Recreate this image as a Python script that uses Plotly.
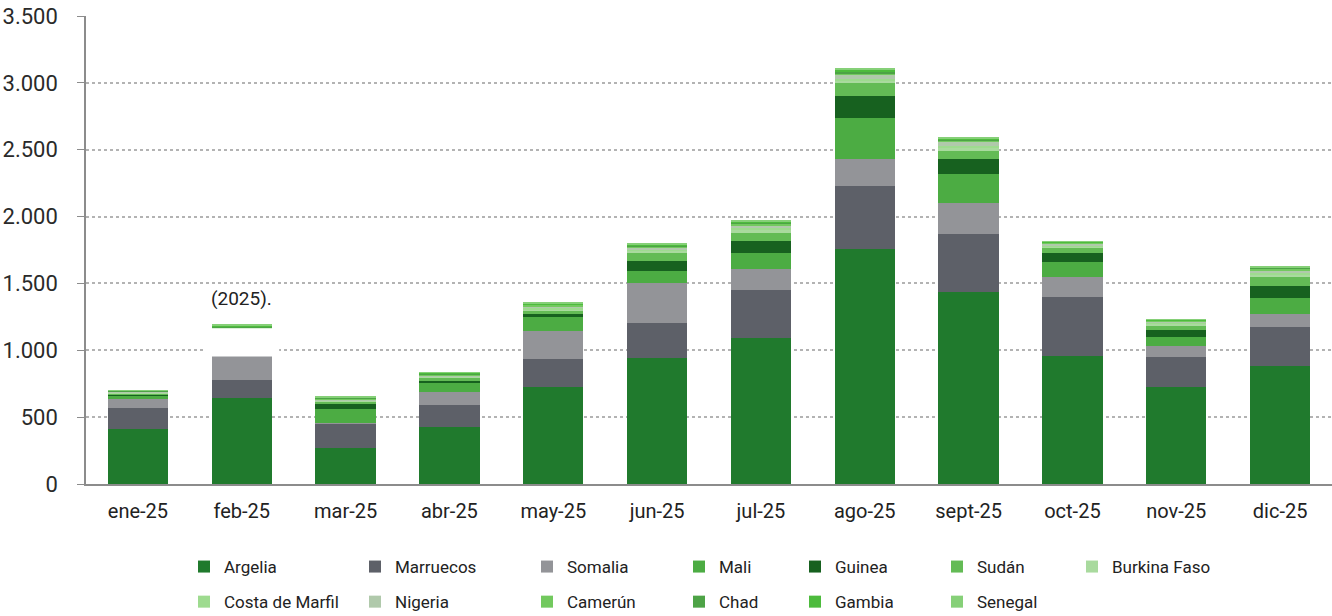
import plotly.graph_objects as go

months = ["ene-25", "feb-25", "mar-25", "abr-25", "may-25", "jun-25",
          "jul-25", "ago-25", "sept-25", "oct-25", "nov-25", "dic-25"]

argelia = [408, 645, 271, 429, 728, 945, 1090, 1755, 1438, 957, 723, 883]
marruecos = [157, 135, 183, 162, 207, 262, 361, 473, 431, 439, 224, 289]
somalia = [67, 180, 5, 95, 212, 299, 157, 204, 229, 154, 85, 100]
mali = [28, 90, 105, 67, 105, 87, 117, 307, 224, 112, 65, 117]
guinea = [12, 45, 37, 17, 20, 77, 92, 162, 105, 67, 55, 92]
sudan = [8, 30, 15, 25, 22, 63, 62, 95, 64, 40, 37, 70]
burkina = [3, 12, 5, 6, 14, 12, 20, 20, 20, 10, 8, 15]
costa_marfil = [3, 10, 5, 6, 12, 10, 15, 15, 20, 8, 8, 15]
nigeria = [3, 10, 5, 5, 10, 10, 18, 27, 25, 10, 8, 15]
camerun = [5, 15, 8, 10, 10, 12, 15, 15, 15, 8, 7, 12]
chad = [3, 8, 5, 5, 6, 8, 10, 10, 8, 4, 4, 8]
gambia = [3, 8, 5, 4, 4, 7, 7, 10, 8, 4, 4, 6]
senegal = [3, 10, 6, 4, 6, 8, 10, 15, 10, 4, 4, 8]

series = [
    ("Argelia", argelia, "#207a2d", "legend"),
    ("Marruecos", marruecos, "#5d6068", "legend2"),
    ("Somalia", somalia, "#939498", "legend3"),
    ("Mali", mali, "#4cac43", "legend4"),
    ("Guinea", guinea, "#17611f", "legend5"),
    ("Sudán", sudan, "#63bb55", "legend6"),
    ("Burkina Faso", burkina, "#a9da9e", "legend7"),
    ("Costa de Marfil", costa_marfil, "#9edb8f", "legend"),
    ("Nigeria", nigeria, "#b0c9ab", "legend2"),
    ("Camerún", camerun, "#72c95e", "legend3"),
    ("Chad", chad, "#4da346", "legend4"),
    ("Gambia", gambia, "#4dbb3d", "legend5"),
    ("Senegal", senegal, "#86d078", "legend6"),
]

fig = go.Figure()
for name, vals, color, leg in series:
    fig.add_trace(go.Bar(
        x=months, y=vals, name=name, legend=leg, legendgroup=name,
        marker=dict(color=color, line=dict(width=0)),
    ))

W, H = 1332, 616
legend_cols = [184, 355, 527, 679, 795, 937, 1072]
legend_top = 549
layout_legends = {}
for i, xpx in enumerate(legend_cols):
    key = "legend" if i == 0 else f"legend{i+1}"
    layout_legends[key] = dict(
        orientation="v", xref="container", yref="container",
        x=xpx / W, y=1 - legend_top / H, xanchor="left", yanchor="top",
        font=dict(family="Roboto", size=17, color="#222222"),
        bgcolor="rgba(0,0,0,0)", borderwidth=0, tracegroupgap=10,
        itemclick=False, itemdoubleclick=False,
    )

fig.update_layout(
    width=W, height=H,
    margin=dict(l=86, r=0, t=16, b=132, autoexpand=False),
    barmode="stack", bargap=0.42,
    paper_bgcolor="white", plot_bgcolor="white",
    separators=",.",
    font=dict(family="Roboto", color="#222222"),
    showlegend=True,
    **layout_legends,
)

fig.update_yaxes(
    range=[0, 3500], dtick=500, tickformat=",",
    showgrid=True, gridcolor="#b3b3b3", griddash="dot", gridwidth=1.5,
    showline=True, linecolor="#8c8c8c", linewidth=1.5,
    ticks="outside", ticklen=7, tickcolor="#8c8c8c",
    tickfont=dict(family="Roboto", size=22, color="#2a2a2a"),
    ticklabelstandoff=15, ticklabeloverflow="allow",
    zeroline=False, automargin=False,
)
fig.update_xaxes(
    showline=True, linecolor="#8c8c8c", linewidth=1.5,
    ticks="", tickfont=dict(family="Roboto", size=20, color="#222222"),
    ticklabelstandoff=8, automargin=False,
)

# Caption fragment overlapping the feb-25 bar in the source image
fig.add_shape(type="rect", xref="x", yref="y", x0=0.64, x1=1.36, y0=954, y1=1164,
              fillcolor="white", line=dict(width=0), layer="above")
fig.add_annotation(x="feb-25", y=1390, text="(2025).", showarrow=False,
                   font=dict(family="Roboto", size=19, color="#222222"))

fig.write_html("out.html", config={"displayModeBar": False},
               post_script="document.body.style.margin='0';")
